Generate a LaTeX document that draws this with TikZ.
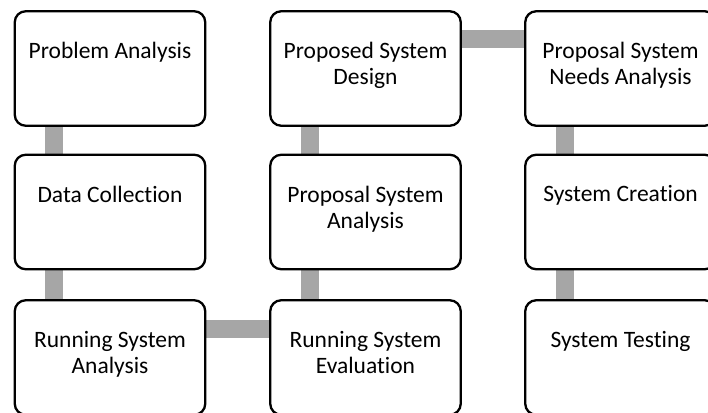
\documentclass[tikz,border=0pt]{standalone}
\usepackage{fontspec}
\setmainfont[Ligatures={NoCommon}]{Carlito}
\usetikzlibrary{backgrounds}
\definecolor{conngray}{HTML}{A6A6A6}
\begin{document}
\begin{tikzpicture}[x=1pt,y=-1pt,
  stagebox/.style={draw=black, line width=2.3pt, rounded corners=11pt, fill=white,
    minimum width=190.5pt, minimum height=114.5pt, inner sep=0pt},
  stagetext/.style={anchor=north, align=center, inner sep=0pt,
    font=\fontsize{23.5pt}{26pt}\selectfont},
  conn/.style={draw=conngray, line width=18pt}]
\useasboundingbox (0,0) rectangle (708,412);
\clip (0,0) rectangle (708,412);
% boxes
\node[stagebox] (pa)  at (110,68.5) {};
\node[stagebox] (dc)  at (110,212) {};
\node[stagebox] (rsa) at (110,357.5) {};
\node[stagebox] (psd) at (365.5,68.5) {};
\node[stagebox] (psa) at (365.5,212) {};
\node[stagebox] (rse) at (365.5,357.5) {};
\node[stagebox] (psn) at (620.5,68.5) {};
\node[stagebox] (sc)  at (620.5,212) {};
\node[stagebox] (st)  at (620.5,357.5) {};
% texts
\node[stagetext] at ([yshift=-32pt]pa.north)  {Problem Analysis};
\node[stagetext] at ([yshift=-32pt]dc.north)  {Data Collection};
\node[stagetext] at ([yshift=-32pt]rsa.north) {Running System\\Analysis};
\node[stagetext] at ([yshift=-32pt]psd.north) {Proposed System\\Design};
\node[stagetext] at ([yshift=-32pt]psa.north) {Proposal System\\Analysis};
\node[stagetext] at ([yshift=-32pt]rse.north) {Running System\\Evaluation};
\node[stagetext] at ([yshift=-32pt]psn.north) {Proposal System\\Needs Analysis};
\node[stagetext] at ([yshift=-32pt]sc.north)  {System Creation};
\node[stagetext] at ([yshift=-32pt]st.north)  {System Testing};
% connectors
\begin{scope}[on background layer]
\draw[conn] ([xshift=-56pt]pa.south) -- ([xshift=-56pt]dc.north);
\draw[conn] ([xshift=-56pt]dc.south) -- ([xshift=-56pt]rsa.north);
\draw[conn] ([yshift=29pt]rsa.east) -- ([yshift=29pt]rse.west);
\draw[conn] ([xshift=-56pt]rse.north) -- ([xshift=-56pt]psa.south);
\draw[conn] ([xshift=-56pt]psa.north) -- ([xshift=-56pt]psd.south);
\draw[conn] ([yshift=29pt]psd.east) -- ([yshift=29pt]psn.west);
\draw[conn] ([xshift=-56pt]psn.south) -- ([xshift=-56pt]sc.north);
\draw[conn] ([xshift=-56pt]sc.south) -- ([xshift=-56pt]st.north);
\end{scope}
\end{tikzpicture}
\end{document}
